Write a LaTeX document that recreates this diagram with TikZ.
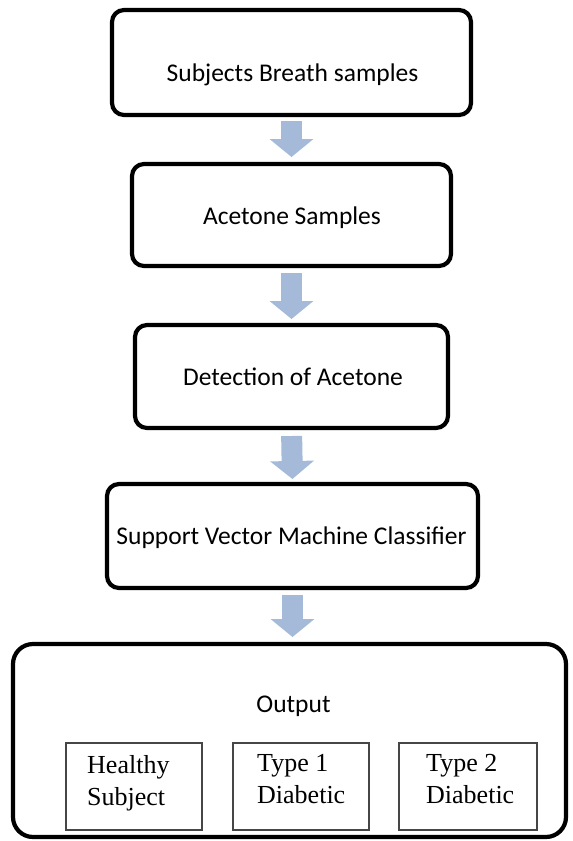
\documentclass[tikz,border=0pt]{standalone}
\usepackage{fontspec}
\setmainfont{Liberation Serif}
\newfontfamily\boxsans{Carlito}
\usetikzlibrary{arrows.meta}
\definecolor{arrowblue}{RGB}{165,186,216}
\definecolor{innergray}{RGB}{70,70,70}
\begin{document}
\begin{tikzpicture}[x=1pt,y=-1pt,
  stepbox/.style={draw=black,line width=4.2pt,rounded corners=12pt,inner sep=0pt,outer sep=0pt},
  outbox/.style={draw=black,line width=4.2pt,rounded corners=20pt,inner sep=0pt,outer sep=0pt},
  classbox/.style={draw=innergray,line width=1.6pt,inner sep=0pt,outer sep=0pt},
  sanslbl/.style={inner sep=0pt,font=\boxsans\fontsize{25.5}{30}\selectfont,anchor=base},
  seriflbl/.style={inner sep=0pt,font=\fontsize{26}{32}\selectfont,align=left,anchor=base west},
  flowarrow/.style={draw=arrowblue,line width=21pt,-{Triangle[width=43pt,length=18pt]}}]
\useasboundingbox (0,0) rectangle (573,841);
% step boxes
\node[stepbox,minimum width=359pt,minimum height=105pt] (b1) at (291.5,62.5) {};
\node[stepbox,minimum width=319pt,minimum height=102pt] (b2) at (291.5,215) {};
\node[stepbox,minimum width=313pt,minimum height=103pt] (b3) at (291.5,376.5) {};
\node[stepbox,minimum width=371pt,minimum height=104pt] (b4) at (292.5,536) {};
\node[outbox,minimum width=553pt,minimum height=193pt] (out) at (289.5,740.5) {};
% labels
\node[sanslbl] (t1) at (292.5,81) {Subjects Breath samples};
\node[sanslbl] (t2) at (292,224) {Acetone Samples};
\node[sanslbl] (t3) at (293,385) {Detection of Acetone};
\node[sanslbl] (t4) at (291.5,544) {Support Vector Machine Classifier};
\node[sanslbl] (t5) at (293.5,712) {Output};
% class boxes
\node[classbox,minimum width=136pt,minimum height=87pt] (c1) at (134,786.5) {};
\node[classbox,minimum width=136pt,minimum height=87pt] (c2) at (301,786.5) {};
\node[classbox,minimum width=138pt,minimum height=87pt] (c3) at (468,786.5) {};
\node[seriflbl] (l1) at (87,805) {Healthy\\Subject};
\node[seriflbl] (l2) at (257,803) {Type 1\\Diabetic};
\node[seriflbl] (l3) at (426,803) {Type 2\\Diabetic};
% arrows
\draw[flowarrow,shorten <=6pt,shorten >=7pt] (b1.south) -- (b2.north);
\draw[flowarrow,shorten <=7pt,shorten >=6pt] (b2.south) -- (b3.north);
\draw[flowarrow,shorten <=8pt,shorten >=5pt] (b3.south) -- (b4.north);
\draw[flowarrow,shorten <=7pt,shorten >=7pt] (b4.south) -- (b4.south |- out.north);
\end{tikzpicture}
\end{document}
